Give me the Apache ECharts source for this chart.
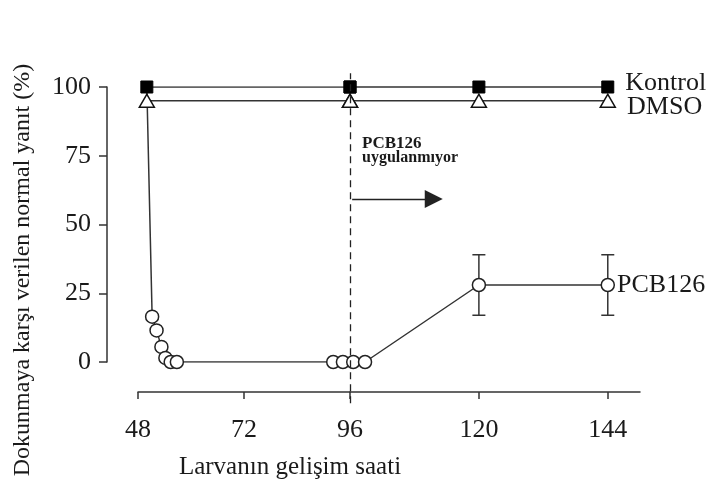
<!DOCTYPE html>
<html><head><meta charset="utf-8">
<script src="https://cdn.jsdelivr.net/npm/echarts@6/dist/echarts.min.js"></script>
<style>html,body{margin:0;padding:0;background:#fff}#c{width:720px;height:488px}</style>
</head><body><div id="c"></div>
<script>
// ---- data ----
const xTickLabels = [48, 72, 96, 120, 144];
const yTickLabels = [0, 25, 50, 75, 100];
const kontrolX = [50, 96, 120, 144];
const kontrolY = [100, 100, 100, 100];
const dmsoX = [50, 96, 120, 144];
const dmsoY = [95, 95, 95, 95];
const pcbX = [50, 51.2, 52.2, 53.3, 54.2, 55.4, 56.8, 92.2, 94.4, 96.6, 98.8, 120, 144];
const pcbY = [100, 16.5, 11.5, 5.5, 1.5, 0, 0, 0, 0, 0, 0, 28, 28];
const errX = [120, 144];
const errLow = [17, 17];
const errHigh = [39, 39];
const seriesNames = ['Kontrol', 'DMSO', 'PCB126'];
const splitHour = 96;

const FONT = "'Liberation Serif','Times New Roman',serif";
const INK = '#1a1a1a';
const LINE = '#333';

function zip(xs, ys) { return xs.map((x, i) => [x, ys[i]]); }

function makeSeries(g) {
  const last = g === 1;
  const kData = zip(kontrolX, kontrolY).map((v, i, a) => (last && i === a.length - 1)
    ? { value: v, label: { show: true, position: 'right', distance: 11, offset: [0, -4], formatter: seriesNames[0] } } : v);
  const dData = zip(dmsoX, dmsoY).map((v, i, a) => (last && i === a.length - 1)
    ? { value: v, label: { show: true, position: 'right', distance: 11, offset: [0, 6], formatter: seriesNames[1] } } : v);
  const pData = zip(pcbX, pcbY).map((v, i, a) => {
    if (i === 0) return { value: v, symbol: 'none' };
    if (last && i === a.length - 1) return { value: v, label: { show: true, position: 'right', distance: 2, formatter: seriesNames[2] } };
    return v;
  });
  const labelStyle = { fontFamily: FONT, fontSize: 26, color: INK };
  const common = { type: 'line', xAxisIndex: g, yAxisIndex: g, clip: true, animation: false,
    lineStyle: { color: LINE, width: 1.5 }, label: Object.assign({ show: false }, labelStyle), emphasis: { disabled: true } };
  const out = [
    Object.assign({}, common, { name: seriesNames[0], data: kData, symbol: 'rect', symbolSize: 12,
      itemStyle: { color: '#000', borderColor: '#000', borderWidth: 1 }, z: 4 }),
    Object.assign({}, common, { name: seriesNames[1], data: dData, symbol: 'triangle', symbolSize: [15, 13],
      itemStyle: { color: '#fff', borderColor: '#111', borderWidth: 1.5 }, z: 3 }),
    Object.assign({}, common, { name: seriesNames[2], data: pData, symbol: 'circle', symbolSize: 13,
      itemStyle: { color: '#fff', borderColor: '#222', borderWidth: 1.5 }, z: 3 })
  ];
  if (g === 1) {
    out[2].markLine = {
      silent: true, animation: false, label: { show: false }, symbol: ['none', 'none'],
      lineStyle: { color: '#222', width: 1.3, type: 'solid' },
      emphasis: { disabled: true },
      data: [
        { xAxis: splitHour, lineStyle: { type: [7, 5], color: '#222', width: 1.3 } },
        [{ coord: [96.4, 59.3] },
         { coord: [111.6, 59.3], symbol: 'triangle', symbolSize: [18, 18] }]
      ]
    };
  }
  return out;
}

const axisLineStyle = { color: '#333', width: 1.5 };
const tickFont = { fontFamily: FONT, fontSize: 26, color: INK };

const chart = echarts.init(document.getElementById('c'), null, { renderer: 'canvas' });
chart.setOption({
  animation: false,
  backgroundColor: '#fff',
  grid: [
    { left: 138, top: 87, width: 212, height: 275, outerBoundsMode: 'none', containLabel: false },
    { left: 350, top: 73.25, width: 290, height: 330, outerBoundsMode: 'none', containLabel: false }
  ],
  xAxis: [
    { gridIndex: 0, type: 'value', min: xTickLabels[0], max: xTickLabels[2], interval: 24, offset: 30,
      axisLine: { show: true, onZero: false, lineStyle: axisLineStyle },
      axisTick: { show: true, length: 7, lineStyle: axisLineStyle },
      axisLabel: Object.assign({ margin: 25, showMaxLabel: false, showMinLabel: true }, tickFont),
      splitLine: { show: false } },
    { gridIndex: 1, type: 'value', min: xTickLabels[2], max: 150, interval: 24, offset: -11.25,
      axisLine: { show: true, onZero: false, lineStyle: axisLineStyle },
      axisTick: { show: true, length: 7, lineStyle: axisLineStyle },
      axisLabel: Object.assign({ margin: 25, showMinLabel: true, showMaxLabel: false }, tickFont),
      splitLine: { show: false } }
  ],
  yAxis: [
    { gridIndex: 0, type: 'value', min: yTickLabels[0], max: yTickLabels[4], interval: 25, offset: 31,
      axisLine: { show: true, onZero: false, lineStyle: axisLineStyle },
      axisTick: { show: true, length: 8, lineStyle: axisLineStyle },
      axisLabel: Object.assign({ margin: 16 }, tickFont),
      splitLine: { show: false } },
    { gridIndex: 1, type: 'value', min: -15, max: 105, show: false, splitLine: { show: false } }
  ],
  graphic: [
    { type: 'text', x: 290, y: 467, style: { text: 'Larvanın gelişim saati', font: "25px " + FONT, fill: INK, align: 'center', verticalAlign: 'middle' } },
    { type: 'text', x: 23, y: 270, rotation: Math.PI / 2, style: { text: 'Dokunmaya karşı verilen normal yanıt (%)', font: "24px " + FONT, fill: INK, align: 'center', verticalAlign: 'middle' } },
    { type: 'text', x: 362, y: 144, style: { text: 'PCB126', font: "bold 17px " + FONT, fill: INK, align: 'left', verticalAlign: 'middle' } },
    { type: 'text', x: 362, y: 158, style: { text: 'uygulanmıyor', font: "bold 16px " + FONT, fill: INK, align: 'left', verticalAlign: 'middle' } }
  ],
  series: [].concat(makeSeries(0), makeSeries(1), [{
    type: 'custom', xAxisIndex: 1, yAxisIndex: 1, z: 1, animation: false, silent: true,
    data: errX.map((x, i) => [x, errLow[i], errHigh[i]]),
    renderItem(params, api) {
      const x = api.value(0);
      const lo = api.coord([x, api.value(1)]);
      const hi = api.coord([x, api.value(2)]);
      const w = 6.5;
      const st = { stroke: '#333', lineWidth: 1.5 };
      return { type: 'group', children: [
        { type: 'line', shape: { x1: lo[0], y1: lo[1], x2: hi[0], y2: hi[1] }, style: st },
        { type: 'line', shape: { x1: lo[0] - w, y1: lo[1], x2: lo[0] + w, y2: lo[1] }, style: st },
        { type: 'line', shape: { x1: hi[0] - w, y1: hi[1], x2: hi[0] + w, y2: hi[1] }, style: st }
      ] };
    }
  }])
});
</script></body></html>
